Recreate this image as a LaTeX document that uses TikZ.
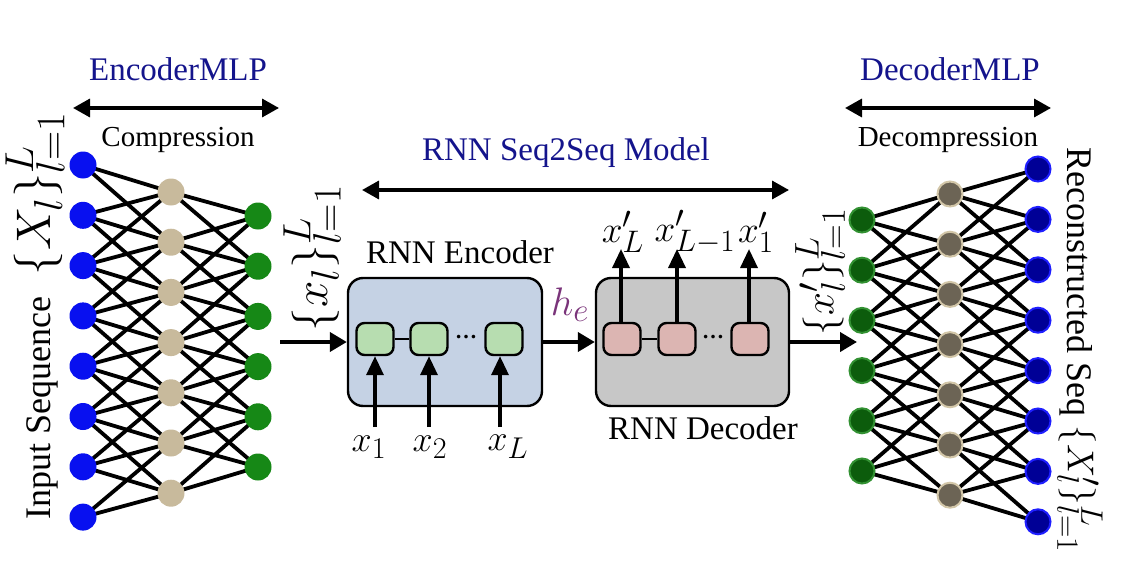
\documentclass[tikz,border=0pt]{standalone}
\usepackage{fontspec}
\setmainfont{Liberation Serif}
\usetikzlibrary{arrows.meta}
\pgfdeclarelayer{bg}
\pgfsetlayers{bg,main}
\definecolor{ttlblue}{RGB}{20,20,140}
\definecolor{lblue}{RGB}{8,16,240}
\definecolor{ltan}{RGB}{200,186,156}
\definecolor{lgreen}{RGB}{22,136,22}
\definecolor{rgreen}{RGB}{12,92,12}
\definecolor{rgreenb}{RGB}{50,145,50}
\definecolor{rtaupe}{RGB}{108,100,85}
\definecolor{rtaupeb}{RGB}{210,198,168}
\definecolor{rnavy}{RGB}{0,0,150}
\definecolor{rnavyb}{RGB}{30,30,255}
\definecolor{encfill}{RGB}{197,210,228}
\definecolor{decfill}{RGB}{199,199,199}
\definecolor{cellg}{RGB}{183,221,176}
\definecolor{cellp}{RGB}{220,181,178}
\definecolor{hecol}{RGB}{122,52,122}
\newcommand{\fTitle}{\fontsize{33}{38}\selectfont}
\newcommand{\fSub}{\fontsize{29}{34}\selectfont}
\newcommand{\fSide}{\fontsize{36}{40}\selectfont}
% math: set at a real CM size, then scaled
\newcommand{\bm}[2]{\scalebox{#1}{\fontsize{24.88}{30}\selectfont$#2$}}
\begin{document}
\begin{tikzpicture}[x=1pt,y=-1pt,
  mlpedge/.style={line width=3.8pt,black},
  neuron/.style={circle,inner sep=0pt,minimum size=27pt},
  rneuron/.style={circle,inner sep=0pt,minimum size=25pt,line width=2pt},
  ttl/.style={text=ttlblue,font=\fTitle,inner sep=0pt},
  subttl/.style={font=\fSub,inner sep=0pt},
  rnnbox/.style={draw,line width=2.4pt,rounded corners=15pt,minimum width=194pt,minimum height=128pt,inner sep=0pt},
  cell/.style={draw,line width=2.4pt,rounded corners=8pt,minimum width=37pt,minimum height=32pt,inner sep=0pt},
  flow/.style={line width=4pt,-{Triangle[length=17pt,width=19pt]}},
  thin arrow/.style={line width=3.4pt,-{Triangle[length=19pt,width=17pt]}},
  span/.style={line width=3.4pt,{Triangle[length=17pt,width=18pt]}-{Triangle[length=17pt,width=18pt]}},
  mlab/.style={inner sep=0pt},
  dots/.style={inner sep=0pt,font=\fontsize{22}{24}\bfseries\selectfont}]
\useasboundingbox (0,0) rectangle (1135,586);

% ---------- titles ----------
\node[ttl] (encT) at (178,69) {EncoderMLP};
\node[ttl] (decT) at (950,69) {DecoderMLP};
\node[ttl] (s2sT) at (566,153) {RNN Seq2Seq Model};
\node[subttl] (comp) at (178,140) {Compression};
\node[subttl] (decomp) at (948,140) {Decompression};

\coordinate (eaL) at (73,108); \coordinate (eaR) at (279,108);
\coordinate (daL) at (845,108); \coordinate (daR) at (1051,108);
\coordinate (saL) at (362,190); \coordinate (saR) at (789,190);
\draw[span] (eaL) -- (eaR);
\draw[span] (daL) -- (daR);
\draw[span] (saL) -- (saR);

% ---------- left MLP ----------
\foreach \i in {1,...,8} \node[neuron,fill=lblue] (b\i) at (83,{165+50.3*(\i-1)}) {};
\foreach \j in {1,...,7} \node[neuron,fill=ltan] (t\j) at (171,{192+50.2*(\j-1)}) {};
\foreach \k in {1,...,6} \node[neuron,fill=lgreen] (g\k) at (258,{216+50.2*(\k-1)}) {};
\begin{pgfonlayer}{bg}
\foreach \i in {1,...,8}{\foreach \j in {1,...,7}{%
  \pgfmathtruncatemacro{\d}{\j-\i}%
  \ifnum\d>-3 \ifnum\d<2 \draw[mlpedge] (b\i.center) -- (t\j.center);\fi\fi}}
\foreach \j in {1,...,7}{\foreach \k in {1,...,6}{%
  \pgfmathtruncatemacro{\d}{\j-\k}%
  \ifnum\d>-2 \ifnum\d<3 \draw[mlpedge] (t\j.center) -- (g\k.center);\fi\fi}}
\end{pgfonlayer}

% ---------- right MLP ----------
\foreach \k in {1,...,6} \node[rneuron,fill=rgreen,draw=rgreenb] (rg\k) at (862,{220+50.2*(\k-1)}) {};
\foreach \j in {1,...,7} \node[rneuron,fill=rtaupe,draw=rtaupeb] (rt\j) at (950,{194+50.2*(\j-1)}) {};
\foreach \i in {1,...,8} \node[rneuron,fill=rnavy,draw=rnavyb] (rb\i) at (1038,{169+50.4*(\i-1)}) {};
\begin{pgfonlayer}{bg}
\foreach \i in {1,...,8}{\foreach \j in {1,...,7}{%
  \pgfmathtruncatemacro{\d}{\j-\i}%
  \ifnum\d>-3 \ifnum\d<2 \draw[mlpedge] (rb\i.center) -- (rt\j.center);\fi\fi}}
\foreach \j in {1,...,7}{\foreach \k in {1,...,6}{%
  \pgfmathtruncatemacro{\d}{\j-\k}%
  \ifnum\d>-2 \ifnum\d<3 \draw[mlpedge] (rt\j.center) -- (rg\k.center);\fi\fi}}
\end{pgfonlayer}

% ---------- side labels ----------
\node[font=\fSide,rotate=90,inner sep=0pt] (inlab) at (35,316) {Input~Sequence\hspace{0.6em}\bm{1.95}{\{X_l\}_{l=1}^L}};
\node[font=\fSide,rotate=-90,inner sep=0pt] (outlab) at (1080,350) {Reconstructed~Seq~\bm{1.5}{\{X'_l\}_{l=1}^L}};

% ---------- encoder ----------
\node[rnnbox,fill=encfill] (enc) at (445,342) {};
\node[font=\fTitle,inner sep=0pt] (encL) at (460,252) {RNN Encoder};
\node[cell,fill=cellg] (c1) at (375,339) {};
\node[cell,fill=cellg] (c2) at (429,339) {};
\node[cell,fill=cellg] (c3) at (504,339) {};
\draw[line width=2.4pt] (c1) -- (c2);
\node[dots] (cd) at (466,337) {…};
\coordinate (xi1) at (375,427); \coordinate (xi2) at (429,427); \coordinate (xi3) at (500,427);
\draw[thin arrow] (xi1) -- (xi1 |- c1.south);
\draw[thin arrow] (xi2) -- (xi2 |- c2.south);
\draw[thin arrow] (xi3) -- (xi3 |- c3.south);
\node[mlab] (lx1) at (369,447) {\bm{1.45}{x_1}};
\node[mlab] (lx2) at (430,447) {\bm{1.45}{x_2}};
\node[mlab] (lxL) at (508,447) {\bm{1.45}{x_L}};

% ---------- decoder ----------
\node[rnnbox,fill=decfill,minimum width=193pt] (dec) at (692.5,342) {};
\node[font=\fTitle,inner sep=0pt] (decL) at (703,428) {RNN Decoder};
\node[cell,fill=cellp] (d1) at (622,339) {};
\node[cell,fill=cellp] (d2) at (677,339) {};
\node[cell,fill=cellp] (d3) at (750,339) {};
\draw[line width=2.4pt] (d1) -- (d2);
\node[dots] (dd) at (713,337) {…};
\coordinate (xo1) at (621,249); \coordinate (xo2) at (677,249); \coordinate (xo3) at (749,249);
\draw[thin arrow] (xo1 |- d1.north) -- (xo1);
\draw[thin arrow] (xo2 |- d2.north) -- (xo2);
\draw[thin arrow] (xo3 |- d3.north) -- (xo3);
\node[mlab] (ly1) at (623,232) {\bm{1.5}{x'_L}};
\node[mlab] (ly2) at (695,232) {\bm{1.5}{x'_{L-1}}};
\node[mlab] (ly3) at (756,232) {\bm{1.5}{x'_1}};

% ---------- flow ----------
\coordinate (fin) at (280,342);
\coordinate (fout) at (857,342);
\draw[flow] (fin) -- (enc.west);
\draw[flow] (enc.east) -- (dec.west);
\draw[flow] (dec.east) -- (fout);
\node[mlab,text=hecol] (he) at (570,305) {\bm{1.6}{h_e}};
\node[rotate=90,inner sep=0pt] (xlab) at (312,258) {\bm{1.9}{\{x_l\}_{l=1}^L}};
\node[rotate=90,inner sep=0pt] (xplab) at (820,272) {\bm{1.65}{\{x'_l\}_{l=1}^L}};
\end{tikzpicture}
\end{document}
